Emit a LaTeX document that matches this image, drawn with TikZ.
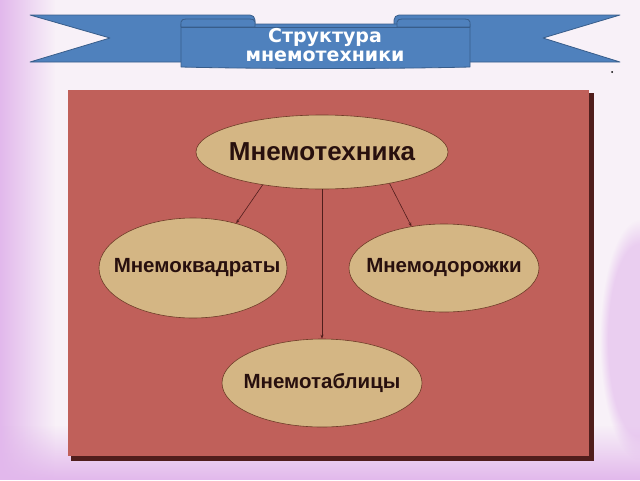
\documentclass[tikz,border=0pt]{standalone}
\usepackage{fontspec}
\setmainfont{Liberation Sans}
\newfontfamily\bannerfont{DejaVu Sans}
\usetikzlibrary{shapes.geometric,arrows.meta,fadings}
\definecolor{bgc}{RGB}{248,241,248}
\definecolor{lilac}{RGB}{226,184,236}
\definecolor{panel}{RGB}{192,96,90}
\definecolor{panelshadow}{RGB}{80,30,28}
\definecolor{tan}{RGB}{212,182,132}
\definecolor{tanedge}{RGB}{110,60,40}
\definecolor{ribbon}{RGB}{79,129,189}
\definecolor{ribbonedge}{RGB}{56,93,138}
\definecolor{txt}{RGB}{40,16,14}
\tikzfading[name=fadeToRight, left color=transparent!0, right color=transparent!100]
\tikzfading[name=fadeToTop, top color=transparent!100, bottom color=transparent!0]
\tikzset{
  oval/.style={ellipse, draw=tanedge, line width=0.6pt, fill=tan, inner sep=0pt, text=txt, font=\bfseries\fontsize{20.5}{22}\selectfont},
  arr/.style={draw=panelshadow, line width=0.6pt, -{Stealth[length=4pt,width=3pt]}},
  rib/.style={fill=ribbon, draw=ribbonedge, line width=0.8pt, line join=round},
  btext/.style={text=white, font=\bannerfont\bfseries\fontsize{19}{19}\selectfont, inner sep=0pt}
}
\begin{document}
\begin{tikzpicture}[x=1pt,y=-1pt]
\useasboundingbox (0,0) rectangle (640,480);
% background
\fill[bgc] (0,0) rectangle (640,480);
\fill[lilac, path fading=fadeToRight] (0,0) rectangle (55,480);
\fill[lilac, path fading=fadeToTop] (0,425) rectangle (640,480);
\fill[lilac, opacity=0.6, path fading=circle with fuzzy edge 20 percent] (640,340) ellipse (40 and 120);
% panel
\fill[panelshadow] (71,93) rectangle (594,461);
\fill[panel] (68,90) rectangle (589,456);
% ribbon tails
\path[rib] (30,15) -- (250,15) to[out=0,in=90] (255,20) -- (255,62) -- (30,62) -- (110,38) -- cycle;
\path[rib] (620,15) -- (399,15) to[out=180,in=90] (394,20) -- (394,62) -- (620,62) -- (543,38) -- cycle;
% ribbon body
\path[rib] (181,24) -- (181,67) .. controls (260,69) and (390,69) .. (470,67) -- (470,24) -- cycle;
\path[rib] (181,27) -- (181,22) to[out=90,in=180] (186,19) -- (250,19) to[out=0,in=90] (255,22) -- (255,27) -- cycle;
\path[rib] (397,27) -- (397,22) to[out=90,in=180] (402,19) -- (465,19) to[out=0,in=90] (470,22) -- (470,27) -- cycle;
\draw[ribbonedge, line width=0.8pt] (181,27) -- (470,27);
\node[btext] (t1) at (325,37) {Структура};
\node[btext] (t2) at (325,56) {мнемотехники};
\fill[black] (612,72) circle (1pt);
% ellipses
\node[oval, minimum width=252pt, minimum height=74pt, font=\bfseries\fontsize{26}{27}\selectfont] (top) at (322,152) {\makebox[0pt]{Мнемотехника}};
\node[oval, minimum width=188pt, minimum height=100pt] (left) at (193,268) {\makebox[0pt]{\hspace{8pt}Мнемоквадраты}};
\node[oval, minimum width=190pt, minimum height=88pt] (right) at (444,268) {\makebox[0pt]{Мнемодорожки}};
\node[oval, minimum width=200pt, minimum height=88pt] (bot) at (322,383) {\makebox[0pt]{Мнемотаблицы}};
% connectors
\draw[arr] (top.209) -- (left.46);
\draw[arr] (top.335) -- (right.128);
\draw[arr] (top.south) -- (bot.north);
\end{tikzpicture}
\end{document}
